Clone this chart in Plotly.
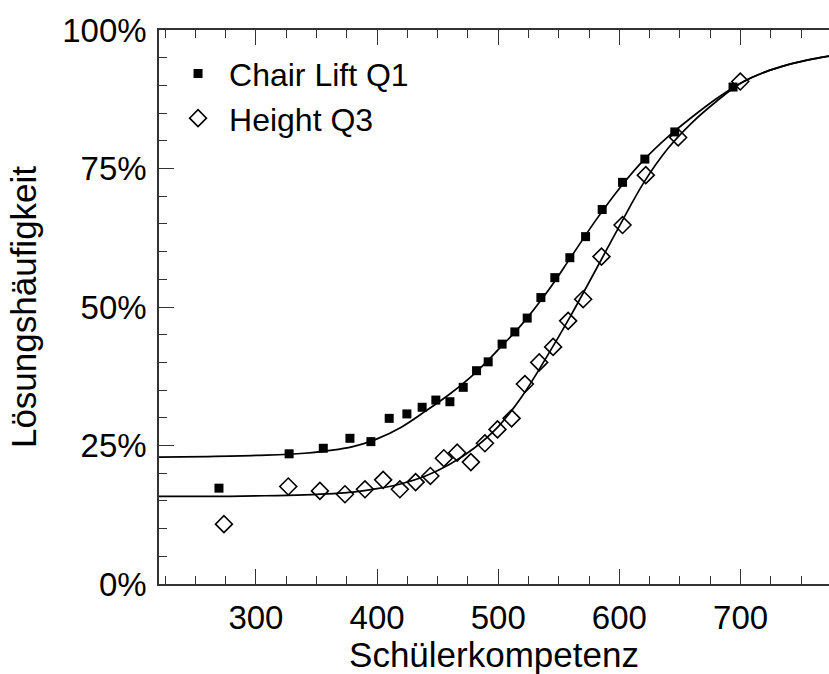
import plotly.graph_objects as go

# Data
chair_x = [269.5, 327.4, 355.6, 377.6, 394.9, 410.0, 424.6, 437.2, 448.5, 460.1, 471.1, 482.1, 491.7,
           503.2, 513.7, 523.9, 535.2, 546.7, 559.1, 572.1, 585.8, 602.6, 621.0, 645.7, 693.8]
chair_y = [17.3, 23.5, 24.5, 26.3, 25.7, 29.9, 30.7, 31.9, 33.2, 32.9, 35.5, 38.5, 40.1,
           43.3, 45.5, 48.0, 51.7, 55.3, 58.9, 62.7, 67.6, 72.5, 76.7, 81.6, 89.7]

height_x = [273.6, 326.7, 352.8, 373.5, 390.0, 405.0, 418.8, 431.8, 444.0, 455.1, 466.1, 477.4, 489.0,
            499.4, 511.0, 522.0, 533.8, 545.3, 557.7, 570.1, 585.2, 602.6, 621.8, 648.5, 699.8]
height_y = [10.8, 17.6, 16.8, 16.2, 17.1, 18.8, 17.1, 18.4, 19.5, 22.7, 23.7, 22.0, 25.4,
            27.9, 29.9, 36.1, 40.0, 42.8, 47.5, 51.4, 59.1, 64.8, 73.8, 80.6, 90.7]

curve_x = [220, 260, 300, 340, 380, 400, 420, 440, 460, 480, 500, 520, 540, 560, 580, 600,
           620, 640, 660, 680, 700, 720, 740, 760, 773]
chair_curve_y = [22.9, 23.0, 23.2, 23.6, 24.8, 26.2, 28.3, 31.2, 34.3, 37.9, 42.3, 47.0, 52.6, 59.0,
                 65.5, 71.4, 76.5, 80.7, 84.3, 87.6, 90.4, 92.4, 93.8, 94.8, 95.3]
height_curve_y = [15.8, 15.8, 15.9, 16.1, 16.6, 17.2, 18.1, 19.5, 21.6, 24.5, 28.4, 34.0, 41.0, 48.5,
                  56.5, 64.6, 72.4, 78.6, 83.3, 87.1, 90.4, 92.4, 93.8, 94.8, 95.3]

series_names = ["Chair Lift Q1", "Height Q3"]
y_ticks = [0, 0.25, 0.5, 0.75, 1.0]
x_ticks = [300, 400, 500, 600, 700]

FONT = "Liberation Sans, Arial, Helvetica, sans-serif"
AX = "#333"

def pct(v):
    return [a / 100 for a in v]

fig = go.Figure()
fig.add_trace(go.Scatter(x=curve_x, y=pct(chair_curve_y), mode="lines",
                         line=dict(color="black", width=1.7, shape="spline"),
                         showlegend=False, hoverinfo="skip"))
fig.add_trace(go.Scatter(x=curve_x, y=pct(height_curve_y), mode="lines",
                         line=dict(color="black", width=1.7, shape="spline"),
                         showlegend=False, hoverinfo="skip"))
fig.add_trace(go.Scatter(x=chair_x, y=pct(chair_y), mode="markers", name=series_names[0], legendgroup="a",
                         marker=dict(symbol="square", size=9, color="black", line=dict(width=0))))
fig.add_trace(go.Scatter(x=height_x, y=pct(height_y), mode="markers", name=series_names[1], legendgroup="b",
                         marker=dict(symbol="diamond-open", size=13, color="black",
                                     line=dict(width=1.6, color="black"))))

axis_common = dict(showline=True, linecolor=AX, linewidth=1.5, ticks="inside",
                   tickcolor=AX, tickwidth=1.3, ticklen=15, showgrid=False, zeroline=False,
                   automargin=False, ticklabelstandoff=4,
                   tickfont=dict(family=FONT, size=33, color="black"))

fig.update_layout(
    xaxis=dict(range=[220, 773], tickvals=x_ticks, mirror="ticks",
               minor=dict(dtick=25, tick0=0, ticks="inside", ticklen=8, tickcolor=AX, tickwidth=1.2),
               title=dict(text="Schülerkompetenz", font=dict(family=FONT, size=35, color="black")),
               **axis_common),
    yaxis=dict(range=[0, 1], tickvals=y_ticks, tickformat=".0%", mirror=False,
               minor=dict(dtick=0.05, tick0=0, ticks="inside", ticklen=8, tickcolor=AX, tickwidth=1.2),
               title=dict(text="Lösungshäufigkeit", font=dict(family=FONT, size=35, color="black")),
               **axis_common),
    yaxis2=dict(range=[0, 1], tickvals=y_ticks, overlaying="y", side="right", anchor="x",
                showticklabels=False, ticks="inside", ticklen=8, tickcolor=AX, tickwidth=1.3,
                showline=False, showgrid=False, zeroline=False),
)

fig.update_layout(
    width=829, height=674,
    margin=dict(l=159, r=0, t=30, b=90),
    paper_bgcolor="white", plot_bgcolor="white",
    font=dict(family=FONT, color="black"),
    legend=dict(x=0.012, y=0.9706, xanchor="left", yanchor="top", bgcolor="rgba(0,0,0,0)",
                font=dict(family=FONT, size=32, color="black"), traceorder="grouped", tracegroupgap=0,
                itemwidth=52),
)

fig.write_html("out.html", config={"displayModeBar": False},
               post_script="document.body.style.margin='0';document.body.style.overflow='hidden';")
